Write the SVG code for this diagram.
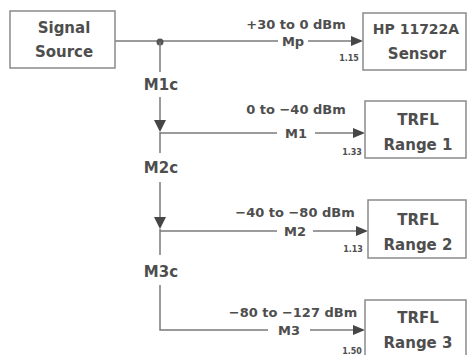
<svg xmlns="http://www.w3.org/2000/svg" width="467" height="355" viewBox="0 0 467 355">
<defs>
<style>
.box{fill:#fff;stroke:#8a8a8a;stroke-width:1.5}
.t{font-family:"DejaVu Sans","Liberation Sans",sans-serif;font-weight:bold;fill:#4e4e4e;text-anchor:middle}
.big{font-size:15px}
.lab{font-size:13px}
.sm{font-size:8px}
.ln{stroke:#7a7a7a;stroke-width:1.5;fill:none}
.ah{fill:#464646}
</style>
</defs>
<rect width="467" height="355" fill="#fff"/>
<g id="connectors">
<line class="ln" x1="115" y1="41" x2="278" y2="41"/>
<line class="ln" x1="308" y1="41" x2="352" y2="41"/>
<polygon class="ah" points="363,41 351,36 351,46"/>
<circle cx="160" cy="42" r="3.5" fill="#555"/>
<line class="ln" x1="160" y1="42" x2="160" y2="72"/>
<line class="ln" x1="160" y1="97" x2="160" y2="122"/>
<polygon class="ah" points="160,132 154,120 166,120"/>
<line class="ln" x1="160" y1="133" x2="277" y2="133"/>
<line class="ln" x1="315" y1="133" x2="354" y2="133"/>
<polygon class="ah" points="365,133 353,128 353,138"/>
<line class="ln" x1="160" y1="132" x2="160" y2="153"/>
<line class="ln" x1="160" y1="182" x2="160" y2="219"/>
<polygon class="ah" points="160,229 154,217 166,217"/>
<line class="ln" x1="160" y1="231" x2="277" y2="231"/>
<line class="ln" x1="313" y1="231" x2="357" y2="231"/>
<polygon class="ah" points="368,231 356,226 356,236"/>
<line class="ln" x1="160" y1="229" x2="160" y2="255"/>
<polyline class="ln" points="160,285 160,330 268,330"/>
<line class="ln" x1="310" y1="330" x2="354" y2="330"/>
<polygon class="ah" points="365,330 353,325 353,335"/>
<text class="t big" x="161" y="90">M1c</text>
<text class="t big" x="161" y="173">M2c</text>
<text class="t big" x="161" y="277">M3c</text>
<text class="t lab" x="296" y="29">+30 to 0 dBm</text>
<text class="t lab" x="293" y="46">Mp</text>
<text class="t sm" x="349" y="61">1.15</text>
<text class="t lab" x="296" y="114">0 to −40 dBm</text>
<text class="t lab" x="296" y="138">M1</text>
<text class="t sm" x="352" y="155">1.33</text>
<text class="t lab" x="295" y="217">−40 to −80 dBm</text>
<text class="t lab" x="295" y="236">M2</text>
<text class="t sm" x="353" y="252">1.13</text>
<text class="t lab" x="293" y="317">−80 to −127 dBm</text>
<text class="t lab" x="289" y="335">M3</text>
<text class="t sm" x="352" y="354">1.50</text>
</g>
<g id="signal-source">
<rect class="box" x="10" y="11" width="105" height="57"/>
<text class="t big" x="64" y="33">Signal</text>
<text class="t big" x="64" y="57">Source</text>
</g>
<g id="sensor">
<rect class="box" x="363" y="13" width="103" height="57"/>
<text class="t big" x="416" y="34" style="font-size:14px">HP 11722A</text>
<text class="t big" x="417" y="59">Sensor</text>
</g>
<g id="range1">
<rect class="box" x="365" y="101" width="101" height="57"/>
<text class="t big" x="418" y="125">TRFL</text>
<text class="t big" x="418" y="150">Range 1</text>
</g>
<g id="range2">
<rect class="box" x="368" y="200" width="98" height="58"/>
<text class="t big" x="418" y="225">TRFL</text>
<text class="t big" x="418" y="250">Range 2</text>
</g>
<g id="range3">
<rect class="box" x="365" y="300" width="101" height="62"/>
<text class="t big" x="418" y="323">TRFL</text>
<text class="t big" x="418" y="348">Range 3</text>
</g>
</svg>
